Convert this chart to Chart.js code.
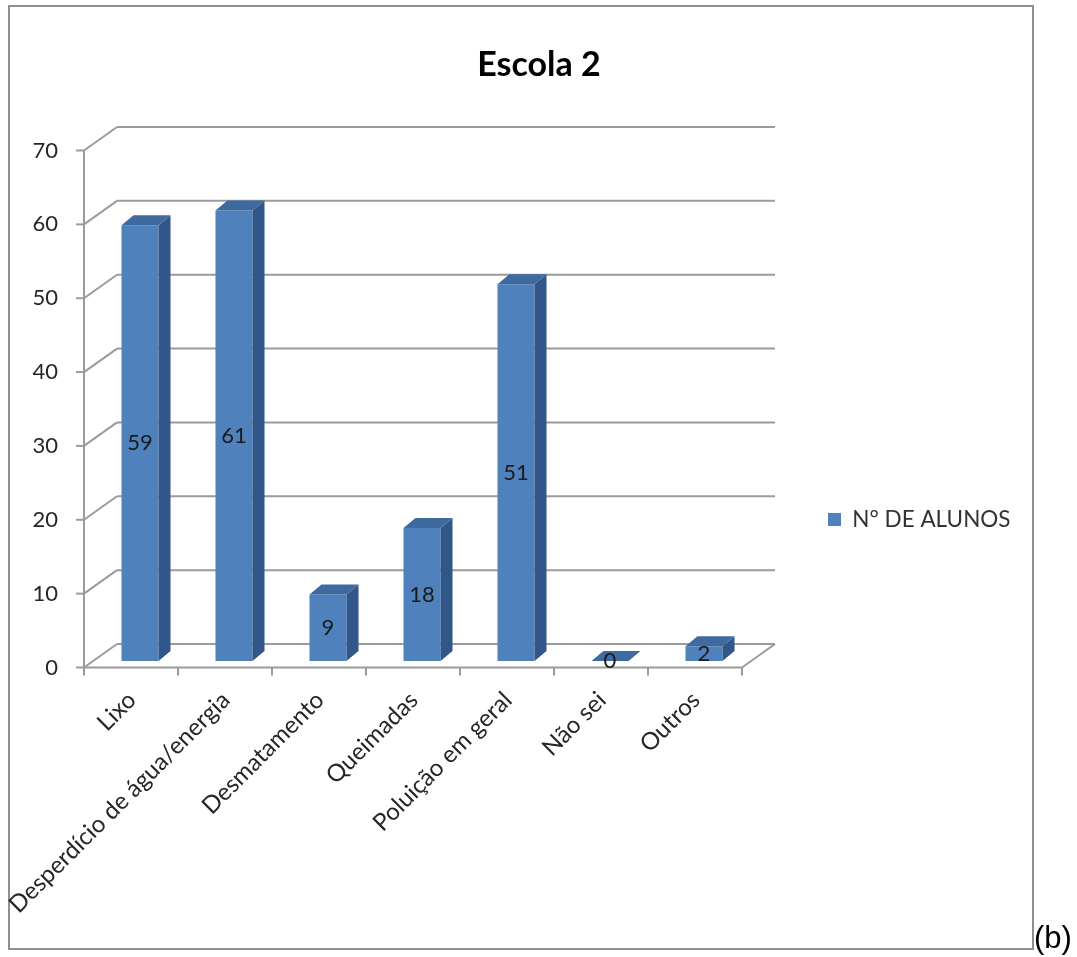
<!DOCTYPE html>
<html>
<head>
<meta charset="utf-8">
<script src="https://cdn.jsdelivr.net/npm/chart.js@4.4.1/dist/chart.umd.min.js"></script>
<style>
  html, body { margin: 0; padding: 0; background: #fff; }
  #wrap { position: relative; width: 1077px; height: 957px; overflow: hidden; }
  #frame { position: absolute; left: 8px; top: 5px; width: 1022px; height: 941px; border: 2px solid #8f8f8f; }
  #c { position: absolute; left: 0; top: 0; }
  #tag { position: absolute; left: 1034px; top: 920px; font: 31px "Liberation Sans", Arial, sans-serif; line-height: 36px; color: #000; }
</style>
</head>
<body>
<div id="wrap">
  <div id="frame"></div>
  <canvas id="c" width="1077" height="957"></canvas>
  <span id="tag">(b)</span>
</div>
<script>
// Data
const chartTitle = 'Escola 2';
const seriesName = 'N° DE ALUNOS';
const categories = ['Lixo', 'Desperdício de água/energia', 'Desmatamento', 'Queimadas', 'Poluição em geral', 'Não sei', 'Outros'];
const alunos = [59, 61, 9, 18, 51, 0, 2];
const yTicks = [0, 10, 20, 30, 40, 50, 60, 70];

// Style
const FONT = 'Lato';
const FRONT = '#4f81bd', SIDE = '#31578a', TOP = '#3e6a9f';
const GRID = '#9b9b9b';
const TEXT = '#262626';
const TITLE_SIZE = 34, LEG_SIZE = 22.5, BOX = 13, Y_SIZE = 22, X_SIZE = 24, VAL_SIZE = 22;
const W = 1077, H = 957;
const AREA_L = 93, AREA_R = 751, AREA_B = 661;   // plane of the bar fronts
const LEG_X = 828;                                 // legend swatch left edge
const Y_LABEL_RIGHT = 58;                          // right edge of the value-axis labels
const FRONT_DX = -9, FRONT_DY = 6.5;               // front edge of the floor / axes
const BACK_DX = 24, BACK_DY = -17;                 // back wall
const DEPTH_X = 12, DEPTH_Y = 10;                  // bar depth

// Text measurements used for the layout
const mctx = document.createElement('canvas').getContext('2d');
mctx.font = LEG_SIZE + 'px ' + FONT;
const legItemW = BOX + LEG_SIZE / 2 + mctx.measureText(seriesName).width;
mctx.font = Y_SIZE + 'px ' + FONT;
const yWidest = Math.max(...yTicks.map(v => mctx.measureText(String(v)).width));

const legPad = LEG_X - AREA_R;
const padR = W - AREA_R - legPad - legItemW - 10;
const padL = padR + 1;
const padT = 82;
const titleLine = TITLE_SIZE * 1.2;
const titlePadTop = 65 - padT - titleLine / 2;
const titlePadBottom = 144 - padT - titleLine - titlePadTop;

function line(ctx, x1, y1, x2, y2) {
  ctx.beginPath(); ctx.moveTo(x1, y1); ctx.lineTo(x2, y2); ctx.stroke();
}

// Walls, floor and axis lines of the 3-D frame
const wallsPlugin = {
  id: 'walls',
  beforeDatasetsDraw(chart) {
    const { ctx, chartArea: a, scales: { x, y } } = chart;
    ctx.save();
    ctx.strokeStyle = GRID;
    ctx.lineWidth = 2;
    const yMin = y.getPixelForValue(yTicks[0]);
    const yMax = y.getPixelForValue(yTicks[yTicks.length - 1]);
    yTicks.forEach(v => {
      const py = y.getPixelForValue(v);
      const fx = a.left + FRONT_DX, fy = py + FRONT_DY;
      line(ctx, fx - 8, fy, fx, fy);
      line(ctx, fx, fy, a.left + BACK_DX, py + BACK_DY);
      line(ctx, a.left + BACK_DX, py + BACK_DY, a.right + BACK_DX, py + BACK_DY);
    });
    // front vertical axis
    line(ctx, a.left + FRONT_DX, yMax + FRONT_DY, a.left + FRONT_DX, yMin + FRONT_DY);
    // front floor edge and right floor edge
    line(ctx, a.left + FRONT_DX, yMin + FRONT_DY, a.right + FRONT_DX, yMin + FRONT_DY);
    line(ctx, a.right + FRONT_DX, yMin + FRONT_DY, a.right + BACK_DX, yMin + BACK_DY);
    // category tick marks
    const n = categories.length;
    for (let i = 0; i <= n; i++) {
      let bx;
      if (i === 0) bx = a.left;
      else if (i === n) bx = a.right;
      else bx = (x.getPixelForValue(i - 1) + x.getPixelForValue(i)) / 2;
      line(ctx, bx + FRONT_DX, yMin + FRONT_DY, bx + FRONT_DX, yMin + FRONT_DY + 8);
    }
    ctx.restore();
  }
};

// Bar sides, tops and value labels
const barsPlugin = {
  id: 'bars3d',
  afterDatasetsDraw(chart) {
    const { ctx } = chart;
    const meta = chart.getDatasetMeta(0);
    ctx.save();
    meta.data.forEach(bar => {
      const { x, y, base, width } = bar.getProps(['x', 'y', 'base', 'width'], true);
      const l = x - width / 2, r = x + width / 2;
      ctx.fillStyle = SIDE;
      ctx.beginPath();
      ctx.moveTo(r, y); ctx.lineTo(r + DEPTH_X, y - DEPTH_Y);
      ctx.lineTo(r + DEPTH_X, base - DEPTH_Y); ctx.lineTo(r, base);
      ctx.closePath(); ctx.fill();
      ctx.fillStyle = TOP;
      ctx.beginPath();
      ctx.moveTo(l, y); ctx.lineTo(l + DEPTH_X, y - DEPTH_Y);
      ctx.lineTo(r + DEPTH_X, y - DEPTH_Y); ctx.lineTo(r, y);
      ctx.closePath(); ctx.fill();
    });
    ctx.fillStyle = '#1a1a1a';
    ctx.font = VAL_SIZE + 'px ' + FONT;
    ctx.textAlign = 'center';
    ctx.textBaseline = 'middle';
    meta.data.forEach((bar, i) => {
      const { x, y, base } = bar.getProps(['x', 'y', 'base'], true);
      ctx.fillText(String(alunos[i]), x, (y + base) / 2);
    });
    ctx.restore();
  }
};

new Chart(document.getElementById('c'), {
  type: 'bar',
  data: {
    labels: categories,
    datasets: [{
      label: seriesName,
      data: alunos,
      backgroundColor: FRONT,
      borderWidth: 0,
      categoryPercentage: 1,
      barPercentage: 0.394
    }]
  },
  options: {
    responsive: false,
    animation: false,
    devicePixelRatio: 1,
    layout: { padding: { left: padL, right: padR, top: padT, bottom: 0 } },
    plugins: {
      title: {
        display: true,
        text: chartTitle,
        color: '#000',
        font: { family: FONT, size: TITLE_SIZE, weight: 'bold', lineHeight: 1.2 },
        padding: { top: titlePadTop, bottom: titlePadBottom }
      },
      legend: {
        display: true,
        position: 'right',
        maxWidth: 600,
        labels: {
          font: { family: FONT, size: LEG_SIZE },
          color: '#333',
          boxWidth: BOX,
          boxHeight: BOX,
          padding: legPad
        }
      },
      tooltip: { enabled: false }
    },
    scales: {
      x: {
        grid: { display: false, drawTicks: false },
        border: { display: false },
        afterFit(s) { s.height = H - AREA_B; },
        ticks: {
          autoSkip: false,
          minRotation: 45,
          maxRotation: 45,
          padding: 25,
          labelOffset: -8,
          color: TEXT,
          font: { family: FONT, size: X_SIZE }
        }
      },
      y: {
        min: 0,
        max: 70,
        grid: { display: false, drawTicks: false },
        border: { display: false },
        afterBuildTicks(s) { s.ticks = yTicks.map(v => ({ value: v })); },
        afterFit(s) { s.width = AREA_L - padL; },
        ticks: {
          mirror: true,
          crossAlign: 'far',
          padding: Y_LABEL_RIGHT - AREA_L - yWidest,
          labelOffset: 6.5,
          color: TEXT,
          font: { family: FONT, size: Y_SIZE }
        }
      }
    }
  },
  plugins: [wallsPlugin, barsPlugin]
});
</script>
</body>
</html>
